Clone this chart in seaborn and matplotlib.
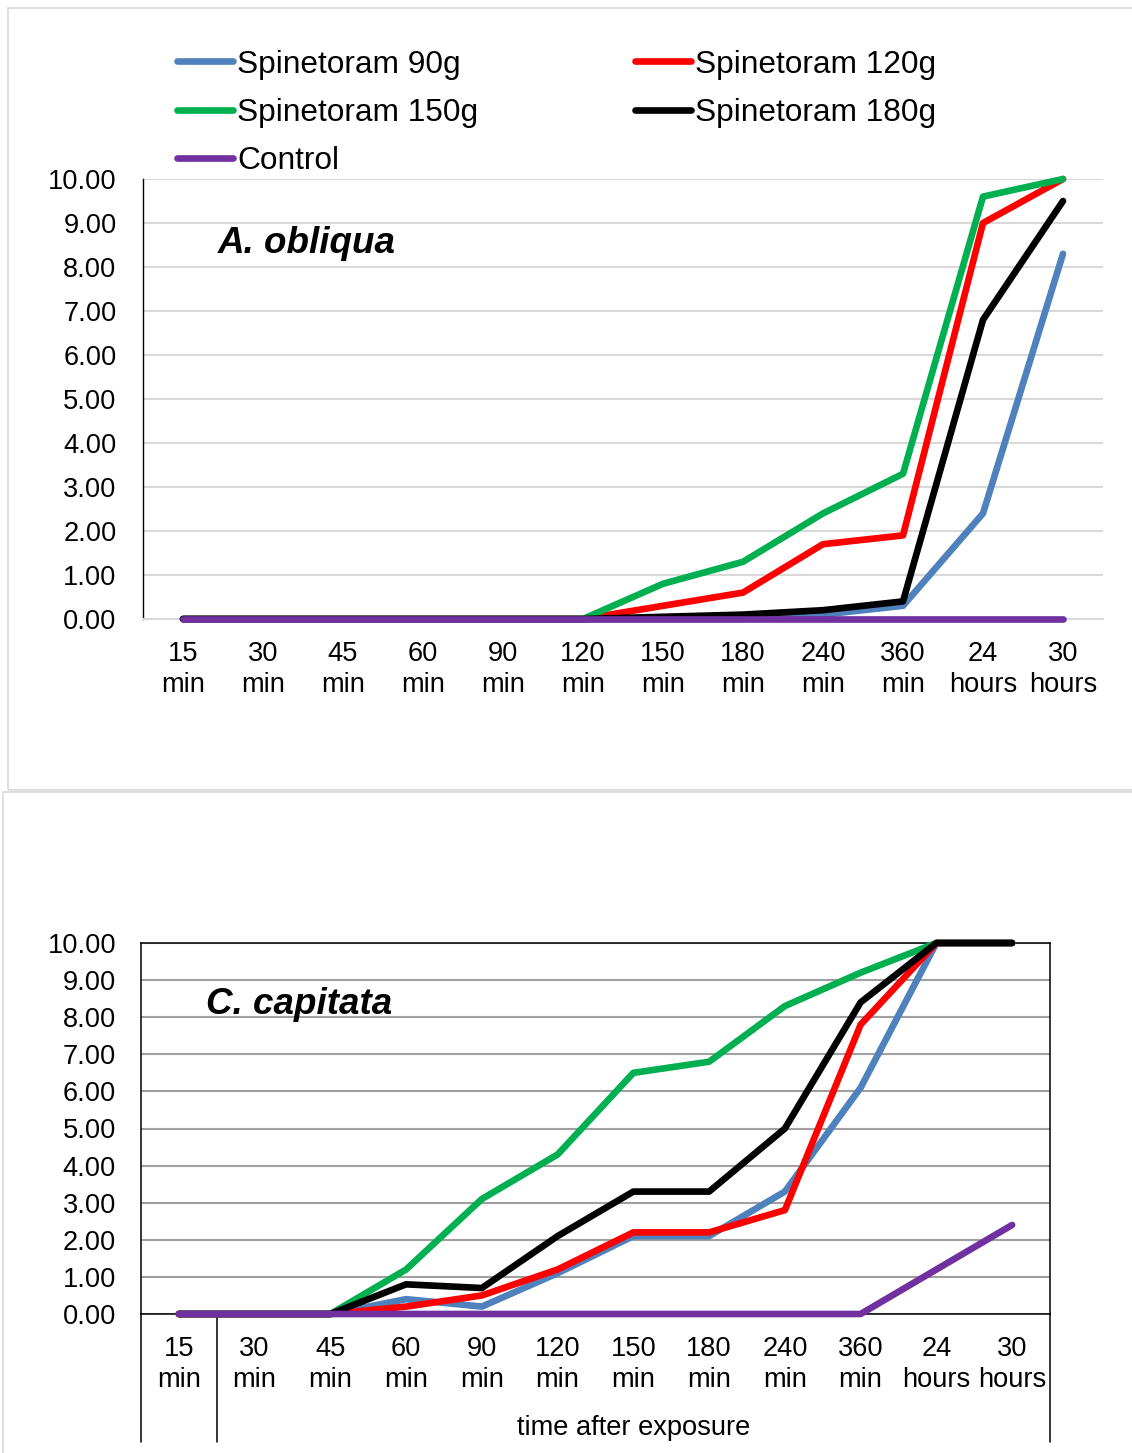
import matplotlib
matplotlib.use("Agg")
import matplotlib.pyplot as plt
from matplotlib.lines import Line2D
from matplotlib.patches import Rectangle
import matplotlib.transforms as mtransforms
import numpy as np
import pandas as pd
import seaborn as sns

# time points
categories = ["15\nmin", "30\nmin", "45\nmin", "60\nmin", "90\nmin", "120\nmin",
              "150\nmin", "180\nmin", "240\nmin", "360\nmin", "24\nhours", "30\nhours"]
series_names = ["Spinetoram 90g", "Spinetoram 120g", "Spinetoram 150g",
                "Spinetoram 180g", "Control"]
colors = ["#4f81bd", "#ff0000", "#00b050", "#000000", "#7030a0"]

# A. obliqua
ao_90 = [0, 0, 0, 0, 0, 0, 0, 0, 0.1, 0.3, 2.4, 8.3]
ao_120 = [0, 0, 0, 0, 0, 0, 0.3, 0.6, 1.7, 1.9, 9.0, 10.0]
ao_150 = [0, 0, 0, 0, 0, 0, 0.8, 1.3, 2.4, 3.3, 9.6, 10.0]
ao_180 = [0, 0, 0, 0, 0, 0, 0.05, 0.1, 0.2, 0.4, 6.8, 9.5]
ao_ctrl = [0, 0, 0, 0, 0, 0, 0, 0, 0, 0, 0, 0]

# C. capitata
cc_90 = [0, 0, 0, 0.4, 0.2, 1.1, 2.1, 2.1, 3.3, 6.1, 10.0, 10.0]
cc_120 = [0, 0, 0, 0.2, 0.5, 1.2, 2.2, 2.2, 2.8, 7.8, 10.0, 10.0]
cc_150 = [0, 0, 0, 1.2, 3.1, 4.3, 6.5, 6.8, 8.3, 9.2, 10.0, 10.0]
cc_180 = [0, 0, 0, 0.8, 0.7, 2.1, 3.3, 3.3, 5.0, 8.4, 10.0, 10.0]
cc_ctrl = [0, 0, 0, 0, 0, 0, 0, 0, 0, 0, 1.2, 2.4]


def long_df(*cols):
    rows = []
    for name, vals in zip(series_names, cols):
        for i, v in enumerate(vals):
            rows.append({"t": i, "value": v, "series": name})
    return pd.DataFrame(rows)


sns.set_theme(style="white")
plt.rcParams["font.family"] = ["Liberation Sans", "DejaVu Sans"]
plt.rcParams["text.color"] = "black"
plt.rcParams["xtick.color"] = "black"
plt.rcParams["ytick.color"] = "black"

W, H = 1132, 1453
fig = plt.figure(figsize=(W / 100, H / 100), dpi=100)
palette = dict(zip(series_names, colors))

# panel frames
fig.patches.append(Rectangle((8 / W, 1 - 790 / H), 1.0, (790 - 8) / H,
                             transform=fig.transFigure, fill=False,
                             edgecolor="#d9d9d9", lw=1.2))
fig.patches.append(Rectangle((3 / W, -0.01), 1.0, 1 - 792 / H + 0.01,
                             transform=fig.transFigure, fill=False,
                             edgecolor="#d9d9d9", lw=1.2))

ax1 = fig.add_axes([143 / W, 1 - 619 / H, (1103 - 143) / W, (619 - 179) / H])
ax2 = fig.add_axes([141 / W, 1 - 1314 / H, (1050 - 141) / W, (1314 - 943) / H])

tick_fs = 19.6
LW = 4.8
line_kw = dict(linewidth=LW, solid_capstyle="round", solid_joinstyle="round",
               clip_on=False, legend=False, sort=False, estimator=None, zorder=3)

for ax, cols in [(ax1, (ao_90, ao_120, ao_150, ao_180, ao_ctrl)),
                 (ax2, (cc_90, cc_120, cc_150, cc_180, cc_ctrl))]:
    sns.lineplot(data=long_df(*cols), x="t", y="value", hue="series",
                 hue_order=series_names, palette=palette, ax=ax, **line_kw)
    for ln in ax.get_lines():
        ln.set_linewidth(LW)
    ax.set_xlim(-0.5, len(categories) - 0.5)
    ax.set_ylim(0, 10)
    ax.set_yticks(np.arange(0, 11, 1))
    ax.set_yticklabels([f"{v:.2f}" for v in range(11)], fontsize=tick_fs)
    ax.set_xticks(range(len(categories)))
    ax.set_xticklabels(categories, fontsize=tick_fs, linespacing=1.28)
    ax.set_xlabel("")
    ax.set_ylabel("")
    ax.set_axisbelow(True)
    ax.tick_params(axis="both", length=0, colors="black")
    ax.tick_params(axis="x", pad=15.5)

# top panel styling
ax1.grid(axis="y", color="#d9d9d9", lw=1.5)
for s in ["top", "right"]:
    ax1.spines[s].set_visible(False)
ax1.spines["bottom"].set_color("#d9d9d9")
ax1.spines["bottom"].set_linewidth(1.5)
ax1.spines["left"].set_color("black")
ax1.spines["left"].set_linewidth(1.0)
ax1.tick_params(axis="y", pad=19)
ax1.text(0.078, 0.854, "A. obliqua", transform=ax1.transAxes, fontsize=26.5,
         fontweight="bold", fontstyle="italic", va="center", ha="left",
         color="black")

# bottom panel styling
ax2.grid(axis="y", color="#a0a0a0", lw=1.5)
for s in ax2.spines.values():
    s.set_color("black")
    s.set_linewidth(1.1)
ax2.tick_params(axis="y", pad=18)
ax2.text(0.0715, 0.834, "C. capitata", transform=ax2.transAxes, fontsize=26.5,
         fontweight="bold", fontstyle="italic", va="center", ha="left",
         color="black")
drop = -(1442 - 1314) / (1314 - 943)
for xv in [-0.5, 0.5, len(categories) - 0.5]:
    ax2.axvline(xv, ymin=drop, ymax=0, color="black", lw=1.1, clip_on=False)
trans = mtransforms.blended_transform_factory(ax2.transData, ax2.transAxes)
ax2.text((0.5 + len(categories) - 0.5) / 2, -(1428 - 1314) / (1314 - 943),
         "time after exposure", transform=trans, fontsize=tick_fs,
         ha="center", va="center", color="black")

# legend, row-wise order like the original
handles = {n: Line2D([0], [0], color=c, lw=LW, solid_capstyle="round")
           for n, c in zip(series_names, colors)}
order = ["Spinetoram 90g", "Spinetoram 150g", "Control",
         "Spinetoram 120g", "Spinetoram 180g"]
leg_fs = 22.8
fig.legend([handles[n] for n in order], order, ncol=2, loc="upper left",
           bbox_to_anchor=(177 / W, 1 - 49.5 / H), frameon=False,
           fontsize=leg_fs, borderpad=0, borderaxespad=0,
           handlelength=1.77, handletextpad=0.13, columnspacing=4.95,
           labelspacing=0.58)

fig.savefig("out.png", dpi=100)
